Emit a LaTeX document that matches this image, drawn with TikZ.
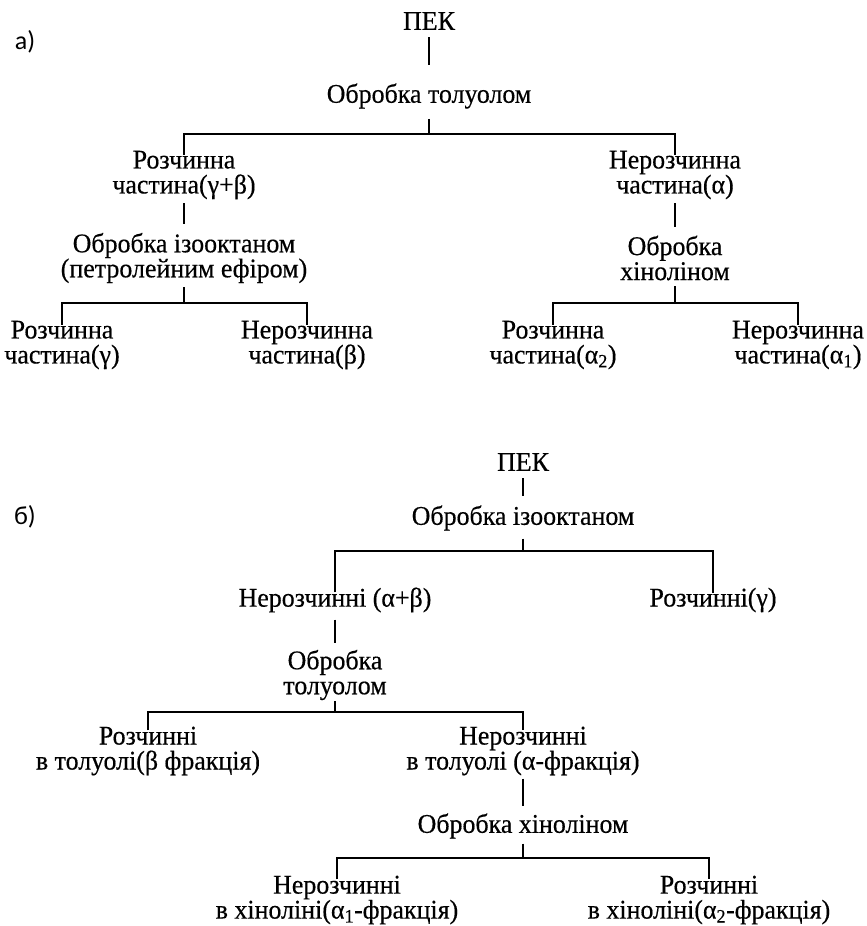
\documentclass[tikz,border=0pt]{standalone}
\usepackage{fontspec}
\setmainfont{Liberation Serif}
\newfontfamily\stepfont{Liberation Serif}[FakeStretch=0.96,FakeBold=0.4]
\newfontfamily\partfont{Carlito}
\usetikzlibrary{positioning}
\tikzset{
  step text/.style={
    align=center,
    inner sep=1pt,
    font=\stepfont\fontsize{27}{25}\selectfont,
  },
  part label/.style={
    inner sep=0pt,
    font=\partfont\fontsize{26}{26}\selectfont,
  },
  link/.style={line width=1.4pt},
  gap/.style={shorten <=#1},
}

\begin{document}
\begin{tikzpicture}[x=1pt,y={(0pt,-1pt)}]
  \useasboundingbox (0,0) rectangle (867,926);

  % a) toluene first
  \node[part label] (labA) at (25,42) {а)};
  \node[step text] (pekA) at (429,21) {ПЕК};
  \node[step text] (tolA) at (429,96) {Обробка толуолом};

  \node[step text] (rozA) at (184,175) {Розчинна\\частина(γ+β)};
  \node[step text] (nerA) at (675,175) {Нерозчинна\\частина(α)};

  \node[step text] (izoA) at (184,258) {Обробка ізооктаном\\(петролейним ефіром)};
  \node[step text] (hinA) at (675,258) {Обробка\\хіноліном};

  \node[step text] (rozGam) at (62,345) {Розчинна\\частина(γ)};
  \node[step text] (nerBet) at (307,345) {Нерозчинна\\частина(β)};
  \node[step text] (rozAl2) at (553,345) {Розчинна\\частина(α\textsubscript{2})};
  \node[step text] (nerAl1) at (798,345) {Нерозчинна\\частина(α\textsubscript{1})};

  \coordinate (fTolA) at (429,134);
  \coordinate (fIzoA) at (184,303);
  \coordinate (fHinA) at (675,303);

  \draw[link,shorten <=6pt,shorten >=17pt] (pekA) -- (tolA);
  \draw[link,gap=9pt] (tolA) -- (fTolA);
  \draw[link] ([yshift=-5pt]rozA.north) |- (fTolA) -| ([yshift=-5pt]nerA.north);

  \draw[link,shorten <=3pt,shorten >=8pt] (rozA) -- (izoA);
  \draw[link,gap=3pt] (izoA) -- (fIzoA);
  \draw[link] ([yshift=-5pt]rozGam.north) |- (fIzoA) -| ([yshift=-5pt]nerBet.north);

  \draw[link,shorten <=3pt,shorten >=8pt] (nerA) -- (hinA);
  \draw[link,gap=5pt] (hinA) -- (fHinA);
  \draw[link] ([yshift=-5pt]rozAl2.north) |- (fHinA) -| ([yshift=-5pt]nerAl1.north);

  % b) isooctane first
  \node[part label] (labB) at (25,517) {б)};
  \node[step text] (pekB) at (523,462) {ПЕК};
  \node[step text] (izoB) at (523,518) {Обробка ізооктаном};

  \node[step text] (nerAB) at (335,600) {Нерозчинні (α+β)};
  \node[step text] (rozGB) at (713,600) {Розчинні(γ)};

  \node[step text] (tolB) at (335,675) {Обробка\\толуолом};

  \node[step text] (rozBet) at (148,751) {Розчинні\\в толуолі(β фракція)};
  \node[step text] (nerAlp) at (523,751) {Нерозчинні\\в толуолі (α-фракція)};

  \node[step text] (hinB) at (523,826) {Обробка хіноліном};

  \node[step text] (nerA1) at (337,900) {Нерозчинні\\в хіноліні(α\textsubscript{1}-фракція)};
  \node[step text] (rozA2) at (709,900) {Розчинні\\в хіноліні(α\textsubscript{2}-фракція)};

  \coordinate (fIzoB) at (523,551);
  \coordinate (fTolB) at (335,712);
  \coordinate (fHinB) at (523,858);

  \draw[link,shorten <=6pt,shorten >=8pt] (pekB) -- (izoB);
  \draw[link,gap=7pt] (izoB) -- (fIzoB);
  \draw[link] ([yshift=-6pt]nerAB.north) |- (fIzoB) -| ([yshift=-6pt]rozGB.north);

  \draw[link,shorten <=6pt,shorten >=6pt] (nerAB) -- (tolB);
  \draw[link] (tolB) -- (fTolB);
  \draw[link] ([yshift=-5pt]rozBet.north) |- (fTolB) -| ([yshift=-5pt]nerAlp.north);

  \draw[link,shorten <=2pt,shorten >=6pt] (nerAlp) -- (hinB);
  \draw[link,gap=4pt] (hinB) -- (fHinB);
  \draw[link] ([yshift=-5pt]nerA1.north) |- (fHinB) -| ([yshift=-5pt]rozA2.north);
\end{tikzpicture}
\end{document}
